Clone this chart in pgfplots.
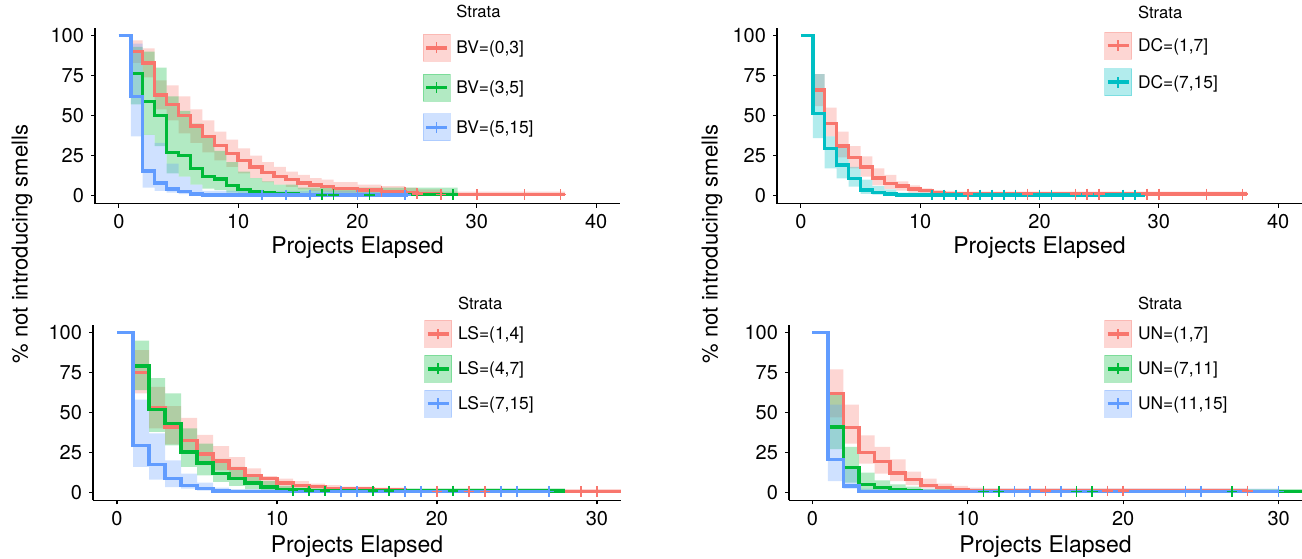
\documentclass[border=0pt]{standalone}
\usepackage{fontspec}
\setmainfont{TeX Gyre Heros}
\usepackage{pgfplots}
\pgfplotsset{compat=1.18}

\definecolor{kmred}{HTML}{F8766D}
\definecolor{kmgreen}{HTML}{00BA38}
\definecolor{kmblue}{HTML}{619CFF}
\definecolor{kmcyan}{HTML}{00BFC4}

\pgfplotsset{
  kmaxis/.style={
    scale only axis,
    axis lines*=left,
    axis line style={-, line width=0.7pt},
    tick align=outside,
    major tick length=2pt,
    tick style={black, line width=0.6pt},
    ymin=-5, ymax=105,
    ytick={0,25,50,75,100},
    ticklabel style={font=\fontsize{10}{12}\selectfont},
    /pgf/number format/assume math mode=true,
    xlabel={Projects Elapsed},
    label style={font=\fontsize{11.5}{13}\selectfont},
    legend cell align=left,
  },
  % band outline: upper steps forward, lower steps backward
  band/.style={draw=none, fill=#1, fill opacity=0.3, const plot, forget plot},
  km/.style={#1, const plot, line width=1.75pt, forget plot},
  cens/.style={#1, only marks, mark=+, mark size=2.7pt, mark options={line width=0.8pt}, forget plot},
}

\newcommand{\kmkey}[1]{\addlegendimage{legend image code/.code={%
  \fill[#1, opacity=0.3] (0pt,-6.75pt) rectangle (13.5pt,6.75pt);
  \draw[#1, line width=1.8pt] (1.5pt,0pt) -- (12pt,0pt);
  \draw[#1, line width=0.8pt] (6.75pt,-2.7pt) -- (6.75pt,2.7pt);}}}

\begin{document}
\begin{tikzpicture}
\useasboundingbox (0,0) rectangle (651pt,279pt);

% ---------------- BV ----------------
\begin{axis}[kmaxis, at={(47.5pt,177.15pt)}, anchor=south west,
  width=262.5pt, height=88pt,
  xmin=-2, xmax=42, xtick={0,10,20,30,40},
  xlabel style={at={(axis description cs:0.5,-0.252)}, anchor=center},
  ylabel={\% not introducing smells},
  ylabel style={at={(axis description cs:-0.139,-0.229)}, anchor=center, font=\fontsize{11}{13}\selectfont},
  legend style={draw=none, fill=none, inner sep=0pt, outer sep=0pt,
    at={(axis description cs:0.624,0.751)}, anchor=west, row sep=6pt,
    font=\fontsize{8.7}{10}\selectfont,
    nodes={inner xsep=3pt, inner ysep=0pt, text height=8pt, text depth=2pt, anchor=west}},
]
\addlegendimage{empty legend}\addlegendentry{\fontsize{8.3}{10}\selectfont Strata}
\kmkey{kmred}\addlegendentry{BV=(0,3]}
\kmkey{kmgreen}\addlegendentry{BV=(3,5]}
\kmkey{kmblue}\addlegendentry{BV=(5,15]}

\addplot[band=kmred] coordinates {(1,97)(2,92)(3,72)(4,69)(5,62)(6,54)(7,47)(8,40)(9,35)(10,29.5)(11,25)(12,21)(13,18)(14,15)(15,13)(16,11)(17,10)(18,8.5)(20,7)(22,6)(24,5)(25,4)(27,2.5)(37.4,2.5)
  (37.4,0.2)(27,0.4)(25,0.7)(24,1)(22,1.5)(20,2)(18,2.5)(17,3)(16,4)(15,5.5)(14,7)(13,8.5)(12,11)(11,14)(10,18)(9,22)(8,27)(7,33)(6,39)(5,47)(4,54)(3,74)(2,83)(1,83)};
\addplot[band=kmgreen] coordinates {(1,93)(2,90)(3,80)(4,62)(5,53)(6,45)(7,37)(8,28)(9,21)(10,15)(11,11)(12,9)(13,7)(15,5)(28.4,4)
  (28.4,0.1)(15,0.2)(13,0.4)(12,0.6)(11,1)(10,2)(9,3.5)(8,4.5)(7,7)(6,12)(5,14)(4,31)(3,38)(2,57)(1,57)};
\addplot[band=kmblue] coordinates {(1,95)(2,38)(3,33)(4,20)(5,12)(6,7)(7,3)(24.2,3)
  (24.2,0.1)(7,0.5)(6,1)(5,2)(4,3)(3,5)(2,37)(1,37)};

\addplot[km=kmred] coordinates {(0,100)(1,90)(2,83)(3,63)(4,57)(5,50)(6,43.5)(7,37)(8,31.5)(9,26.5)(10,22)(11,18)(12,14.5)(13,12)(14,10)(15,8)(16,6.7)(17,5.7)(18,4.6)(20,3.7)(22,2.7)(24,2)(25,1.2)(27,0.8)(37.4,0.8)};
\addplot[km=kmgreen] coordinates {(0,100)(1,76.5)(2,59)(3,50)(4,27)(5,25)(6,17)(7,12)(8,10.4)(9,6.5)(10,3.8)(11,2.7)(12,2)(13,1.2)(15,0.6)(28.4,0.6)};
\addplot[km=kmblue] coordinates {(0,100)(1,62)(2,15.5)(3,8)(4,4.3)(5,2.5)(6,1.2)(7,0.5)(24.2,0.5)};
\addplot[cens=kmred] coordinates {(22,2.7)(24,2)(25,1.2)(27,0.8)(30,0.8)(34,0.8)(37,0.8)};
\addplot[cens=kmgreen] coordinates {(17,0.6)(18,0.6)(21,0.6)(28,0.6)};
\addplot[cens=kmblue] coordinates {(12,0.5)(14,0.5)(16,0.5)(20,0.5)(24,0.5)};
\end{axis}

% ---------------- DC ----------------
\begin{axis}[kmaxis, at={(388.5pt,177.15pt)}, anchor=south west,
  width=262.5pt, height=88pt,
  xmin=-2, xmax=42, xtick={0,10,20,30,40},
  xlabel style={at={(axis description cs:0.5,-0.252)}, anchor=center},
  ylabel={\% not introducing smells},
  ylabel style={at={(axis description cs:-0.124,-0.229)}, anchor=center, font=\fontsize{11}{13}\selectfont},
  legend style={draw=none, fill=none, inner sep=0pt, outer sep=0pt,
    at={(axis description cs:0.6234,0.877)}, anchor=west, row sep=4.5pt,
    font=\fontsize{8.7}{10}\selectfont,
    nodes={inner xsep=3pt, inner ysep=0pt, text height=8pt, text depth=2pt, anchor=west}},
]
\addlegendimage{empty legend}\addlegendentry{\fontsize{8.3}{10}\selectfont Strata}
\kmkey{kmred}\addlegendentry{DC=(1,7]}
\kmkey{kmcyan}\addlegendentry{DC=(7,15]}

\addplot[band=kmred] coordinates {(1,76)(2,55)(3,40)(4,31)(5,24.5)(6,17)(7,13)(8,9)(9,6.5)(10,4.6)(11,3.5)(12,3)(13,2.5)(37.4,2)
  (37.4,0.3)(13,0.5)(12,0.8)(11,1.4)(10,2)(9,3.2)(8,4.2)(7,6.5)(6,12)(5,17)(4,24)(3,37)(2,56)(1,56)};
\addplot[band=kmcyan] coordinates {(1,76)(2,37)(3,30)(4,18)(5,10)(6,6)(7,4)(8,2)(28.8,1.5)
  (28.8,0.1)(8,0.2)(7,0.6)(6,1.2)(5,5.6)(4,10.8)(3,17)(2,36)(1,36)};

\addplot[km=kmred] coordinates {(0,100)(1,66)(2,45)(3,31)(4,24)(5,18)(6,11)(7,7.7)(8,6.2)(9,4.2)(10,3.1)(11,2)(12,1.5)(13,1)(37.4,1)};
\addplot[km=kmcyan] coordinates {(0,100)(1,51.5)(2,29.6)(3,19.2)(4,10.8)(5,3.5)(6,2)(7,1)(8,0.5)(28.8,0.5)};
\addplot[cens=kmred] coordinates {(14,1)(19,1)(23,1)(24,1)(25,1)(29,1)(30,1)(34,1)(37,1)};
\addplot[cens=kmcyan] coordinates {(11,0.5)(12,0.5)(13,0.5)(15,0.5)(16,0.5)(17,0.5)(18,0.5)(20,0.5)(21,0.5)(27,0.5)(28,0.5)};
\end{axis}

% ---------------- LS ----------------
\begin{axis}[kmaxis, at={(46.5pt,28.85pt)}, anchor=south west,
  width=264pt, height=87.8pt,
  xmin=-1.5, xmax=31.5, xtick={0,10,20,30},
  xlabel style={at={(axis description cs:0.5,-0.266)}, anchor=center},
  legend style={draw=none, fill=none, inner sep=0pt, outer sep=0pt,
    at={(axis description cs:0.6275,0.826)}, anchor=west, row sep=3.5pt,
    font=\fontsize{8.7}{10}\selectfont,
    nodes={inner xsep=3pt, inner ysep=0pt, text height=8pt, text depth=2pt, anchor=west}},
]
\addlegendimage{empty legend}\addlegendentry{\fontsize{8.3}{10}\selectfont Strata}
\kmkey{kmred}\addlegendentry{LS=(1,4]}
\kmkey{kmgreen}\addlegendentry{LS=(4,7]}
\kmkey{kmblue}\addlegendentry{LS=(7,15]}

\addplot[band=kmred] coordinates {(1,89)(2,66)(3,54)(4,46.6)(5,36)(6,29)(7,22)(8,15)(9,10.2)(10,8.6)(11,7)(12,5.5)(13,4.5)(14,3.5)(16,3)(18,2)(32,2)
  (32,0.1)(18,0.4)(16,0.6)(14,1)(13,1.5)(12,2)(11,2.5)(10,3.8)(9,6.5)(8,9.6)(7,13.8)(6,17)(5,25)(4,30)(3,40)(2,62)(1,62)};
\addplot[band=kmgreen] coordinates {(1,95)(2,71.6)(3,62)(4,40)(5,30.5)(6,21)(7,16)(8,10)(9,7)(10,4)(11,3)(12,2.5)(28,2)
  (28,0.2)(12,0.4)(11,0.5)(10,1)(9,2)(8,4)(7,6.5)(6,10.6)(5,16)(4,29.4)(3,37.8)(2,64)(1,64)};
\addplot[band=kmblue] coordinates {(1,58)(2,37)(3,20)(4,11.7)(5,6)(6,3)(7,2)(27,1.5)
  (27,0.1)(7,0.3)(6,1)(5,2.3)(4,3.3)(3,8)(2,16)(1,16)};

\addplot[km=kmred] coordinates {(0,100)(1,75)(2,53)(3,41)(4,32.5)(5,24)(6,19.5)(7,15)(8,10.6)(9,8.6)(10,5.8)(11,4.4)(12,3.5)(13,2.5)(14,2)(16,1.3)(18,0.5)(32,0.5)};
\addplot[km=kmgreen] coordinates {(0,100)(1,79)(2,52)(3,43)(4,25.3)(5,18.4)(6,11.7)(7,8.6)(8,5.8)(9,3.3)(10,1.9)(11,1.3)(12,0.8)(28,0.8)};
\addplot[km=kmblue] coordinates {(0,100)(1,29.4)(2,17.5)(3,8.6)(4,4.4)(5,2.3)(6,0.8)(7,0.4)(27,0.4)};
\addplot[cens=kmred] coordinates {(20,0.5)(22,0.5)(23,0.5)(29,0.5)(30,0.5)};
\addplot[cens=kmgreen] coordinates {(11,1.3)(12,0.8)(13,0.8)(16,0.8)(17,0.8)(21,0.8)};
\addplot[cens=kmblue] coordinates {(14,0.4)(15,0.4)(18,0.4)(19,0.4)(24,0.4)(25,0.4)(27,0.4)};
\end{axis}

% ---------------- UN ----------------
\begin{axis}[kmaxis, at={(394.5pt,28.85pt)}, anchor=south west,
  width=256.5pt, height=87.8pt,
  xmin=-1.5, xmax=31.5, xtick={0,10,20,30},
  xlabel style={at={(axis description cs:0.5,-0.266)}, anchor=center},
  legend style={draw=none, fill=none, inner sep=0pt, outer sep=0pt,
    at={(axis description cs:0.6146,0.826)}, anchor=west, row sep=3.5pt,
    font=\fontsize{8.7}{10}\selectfont,
    nodes={inner xsep=3pt, inner ysep=0pt, text height=8pt, text depth=2pt, anchor=west}},
]
\addlegendimage{empty legend}\addlegendentry{\fontsize{8.3}{10}\selectfont Strata}
\kmkey{kmred}\addlegendentry{UN=(1,7]}
\kmkey{kmgreen}\addlegendentry{UN=(7,11]}
\kmkey{kmblue}\addlegendentry{UN=(11,15]}

\addplot[band=kmred] coordinates {(1,77)(2,55)(3,35.7)(4,28.4)(5,20.7)(6,13)(7,8.6)(8,5.4)(9,4)(10,3)(11,2.5)(28,2)
  (28,0.3)(11,0.5)(10,0.8)(9,1.5)(8,2.5)(7,4.5)(6,7)(5,11.7)(4,18)(3,30.5)(2,47)(1,47)};
\addplot[band=kmgreen] coordinates {(1,61)(2,28.4)(3,12.3)(4,7.5)(5,5)(6,3.5)(7,2)(32,1.5)
  (32,0.1)(7,0.3)(6,0.5)(5,0.8)(4,1.2)(3,6)(2,27)(1,27)};
\addplot[band=kmblue] coordinates {(1,55)(2,15)(3,2.3)(30,1.5)
  (30,0.2)(3,2.3)(2,7)(1,7)};

\addplot[km=kmred] coordinates {(0,100)(1,61.8)(2,40.7)(3,24.8)(4,19.4)(5,12)(6,8)(7,4.4)(8,3)(9,1.7)(10,1.2)(11,0.8)(28,0.8)};
\addplot[km=kmgreen] coordinates {(0,100)(1,41)(2,15.5)(3,4.8)(4,3)(5,1.9)(6,1.2)(7,0.6)(32,0.6)};
\addplot[km=kmblue] coordinates {(0,100)(1,20.7)(2,4)(3,0.4)(30,0.4)};
\addplot[cens=kmred] coordinates {(15,0.8)(19,0.8)(20,0.8)(28,0.8)};
\addplot[cens=kmgreen] coordinates {(11,0.6)(12,0.6)(17,0.6)(18,0.6)(27,0.6)};
\addplot[cens=kmblue] coordinates {(13,0.4)(14,0.4)(16,0.4)(24,0.4)(25,0.4)(30,0.4)};
\end{axis}
\end{tikzpicture}
\end{document}
